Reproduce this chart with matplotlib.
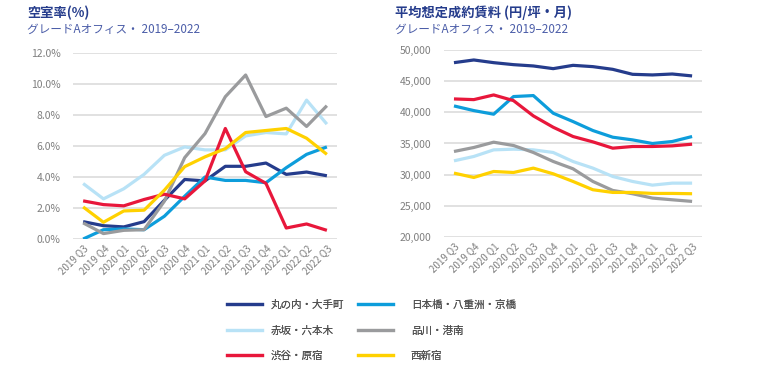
import matplotlib
matplotlib.use("Agg")
import matplotlib.pyplot as plt
import matplotlib.ticker as mticker
from matplotlib.lines import Line2D

plt.rcParams["font.family"] = ["Noto Sans CJK JP", "DejaVu Sans"]

# ─────────────────────────────────────────────
# DATA
# ─────────────────────────────────────────────
quarters = ["2019 Q3", "2019 Q4", "2020 Q1", "2020 Q2", "2020 Q3", "2020 Q4", "2021 Q1",
            "2021 Q2", "2021 Q3", "2021 Q4", "2022 Q1", "2022 Q2", "2022 Q3"]

areas = ["丸の内・大手町", "日本橋・八重洲・京橋", "赤坂・六本木", "品川・港南", "渋谷・原宿", "西新宿"]

# vacancy rate (%)
vac_marunouchi = [1.12, 0.86, 0.78, 1.12, 2.50, 3.84, 3.75, 4.69, 4.69, 4.90, 4.17, 4.32, 4.08]
vac_nihonbashi = [0.00, 0.60, 0.65, 0.60, 1.47, 2.76, 4.00, 3.78, 3.78, 3.63, 4.60, 5.46, 5.94]
vac_akasaka    = [3.58, 2.59, 3.24, 4.17, 5.40, 5.94, 5.75, 5.75, 6.65, 6.87, 6.78, 8.96, 7.41]
vac_shinagawa  = [1.04, 0.35, 0.56, 0.60, 2.44, 5.25, 6.80, 9.18, 10.58, 7.90, 8.44, 7.26, 8.60]
vac_shibuya    = [2.46, 2.22, 2.14, 2.55, 2.89, 2.59, 3.75, 7.13, 4.34, 3.59, 0.71, 0.97, 0.56]
vac_nishi      = [2.07, 1.08, 1.81, 1.86, 3.15, 4.67, 5.30, 5.83, 6.87, 7.00, 7.13, 6.50, 5.46]

# average assumed contract rent (yen / tsubo / month)
rent_marunouchi = [47970, 48400, 47970, 47650, 47440, 47010, 47540, 47330, 46900, 46100, 46000, 46150, 45840]
rent_nihonbashi = [41030, 40280, 39700, 42530, 42690, 39860, 38520, 37080, 36010, 35580, 35000, 35320, 36120]
rent_akasaka    = [32220, 32920, 33980, 34090, 33980, 33560, 32110, 31050, 29710, 28910, 28320, 28640, 28640]
rent_shinagawa  = [33720, 34360, 35210, 34680, 33560, 32120, 30940, 28910, 27470, 26940, 26240, 25970, 25710]
rent_shibuya    = [42150, 42040, 42790, 41880, 39430, 37610, 36120, 35260, 34250, 34520, 34520, 34620, 34890]
rent_nishi      = [30250, 29550, 30510, 30350, 31050, 30140, 28910, 27580, 27150, 27150, 26990, 26990, 26940]

vacancy = [vac_marunouchi, vac_nihonbashi, vac_akasaka, vac_shinagawa, vac_shibuya, vac_nishi]
rent = [rent_marunouchi, rent_nihonbashi, rent_akasaka, rent_shinagawa, rent_shibuya, rent_nishi]

colors = ["#253C8C", "#0D9DDB", "#B8E2F6", "#9A9B9D", "#E8173B", "#FFD100"]

NAVY = "#253C8C"
SUB = "#4B5DA8"
TICK = "#7F7F7F"
GRID = "#D9D9D9"

# ─────────────────────────────────────────────
# FIGURE
# ─────────────────────────────────────────────
fig = plt.figure(figsize=(7.61, 3.82), dpi=100)

ax1 = fig.add_axes([0.0959, 0.3743, 0.347, 0.487])
ax2 = fig.add_axes([0.5835, 0.3796, 0.339, 0.4895])

x = range(len(quarters))

for ax, series in [(ax1, vacancy), (ax2, rent)]:
    for i, (vals, c) in enumerate(zip(series, colors)):
        ax.plot(x, vals, color=c, linewidth=2.3, solid_capstyle="butt", zorder=3 + i)
    ax.set_xlim(-0.5, len(quarters) - 0.5)
    ax.set_xticks(list(x))
    ax.set_xticklabels(quarters, rotation=45, ha="right", rotation_mode="anchor",
                       fontsize=7, color=TICK)
    ax.tick_params(axis="both", length=0, pad=3)
    ax.tick_params(axis="y", labelsize=7.5, labelcolor=TICK, pad=9)
    ax.grid(axis="y", color=GRID, linewidth=1.1)
    ax.set_axisbelow(True)
    for s in ax.spines.values():
        s.set_visible(False)

ax1.set_ylim(0, 12)
ax1.set_yticks([0, 2, 4, 6, 8, 10, 12])
ax1.yaxis.set_major_formatter(mticker.FuncFormatter(lambda v, _: f"{v:.1f}%"))

ax2.set_ylim(20000, 50000)
ax2.set_yticks(range(20000, 50001, 5000))
ax2.yaxis.set_major_formatter(mticker.FuncFormatter(lambda v, _: f"{v:,.0f}"))

# titles
fig.text(27 / 761, 1 - 13 / 382, "空室率(%)", fontsize=9.5, fontweight="bold",
         color=NAVY, va="center", ha="left")
fig.text(27 / 761, 1 - 29 / 382, "グレードAオフィス・ 2019–2022", fontsize=8.4,
         color=SUB, va="center", ha="left")
fig.text(395 / 761, 1 - 13 / 382, "平均想定成約賃料 (円/坪・月)", fontsize=9.5, fontweight="bold",
         color=NAVY, va="center", ha="left")
fig.text(395 / 761, 1 - 29 / 382, "グレードAオフィス・ 2019–2022", fontsize=8.4,
         color=SUB, va="center", ha="left")

# legend: two columns placed separately
leg_kw = dict(loc="upper left", frameon=False, fontsize=7.6, labelcolor="#505050",
              handlelength=3.3, labelspacing=1.45, borderpad=0, borderaxespad=0)
for col, x0, pad in [([0, 2, 4], 227, 0.85), ([1, 3, 5], 358, 1.7)]:
    handles = [Line2D([0], [0], color=colors[k], linewidth=2.3) for k in col]
    labels = [areas[k] for k in col]
    leg = fig.legend(handles, labels, bbox_to_anchor=(x0 / 761, 1 - 300 / 382),
                     handletextpad=pad, **leg_kw)
    fig.add_artist(leg)

plt.savefig("out.png", dpi=100)
